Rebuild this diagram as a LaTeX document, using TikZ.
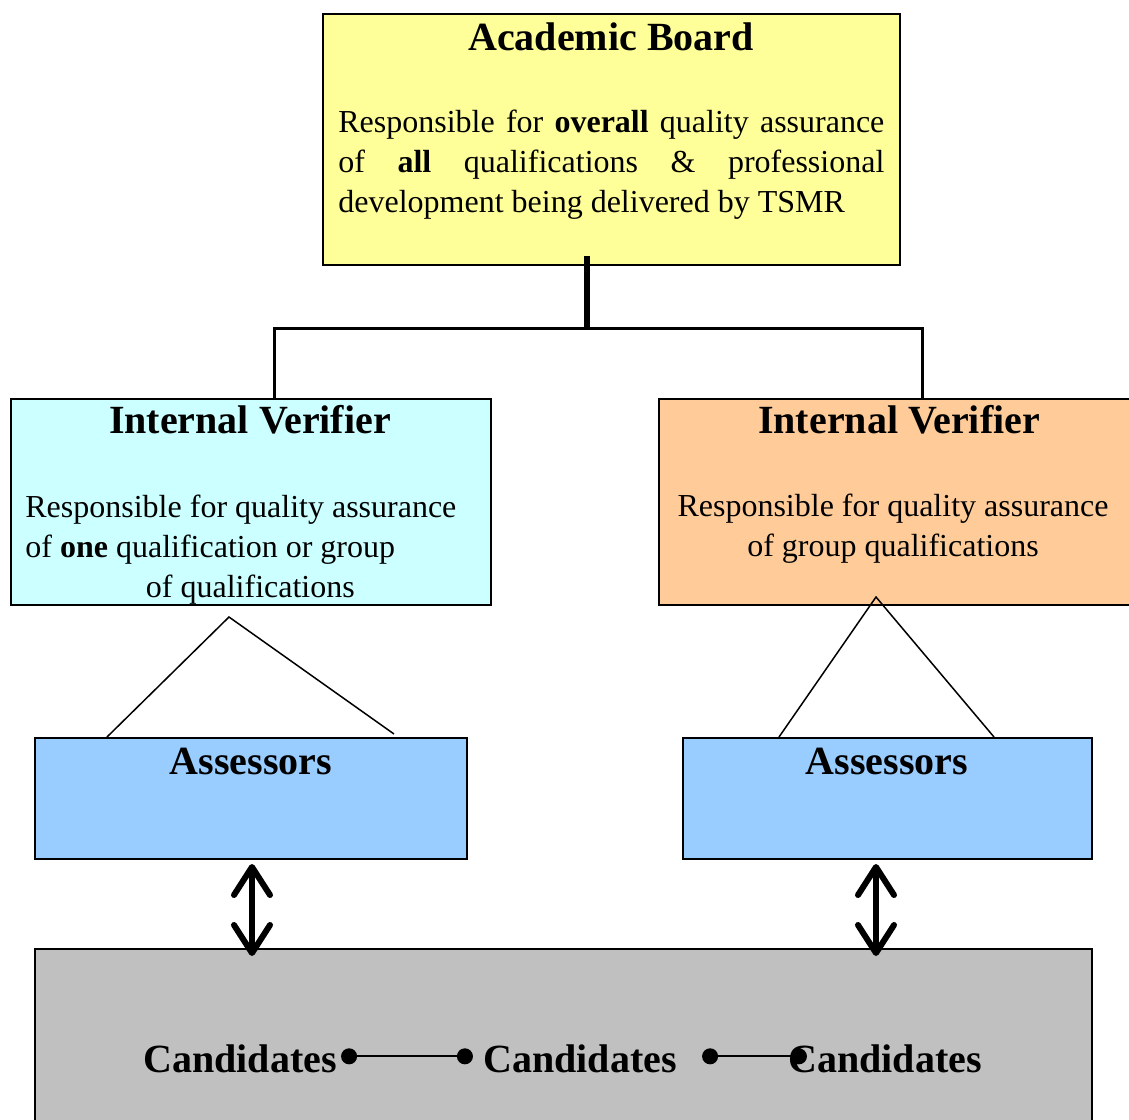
\documentclass[tikz,border=0pt]{standalone}
\usepackage{fontspec}
\setmainfont{Liberation Serif}
\usetikzlibrary{arrows.meta,positioning,calc}
\definecolor{boardyellow}{HTML}{FFFF99}
\definecolor{ivcyan}{HTML}{CCFFFF}
\definecolor{ivorange}{HTML}{FFCC99}
\definecolor{assblue}{HTML}{99CCFF}
\definecolor{candgray}{HTML}{C0C0C0}

\begin{document}
\begin{tikzpicture}[x=0.5pt,y=-0.5pt,
    box/.style={draw,line width=1pt,inner sep=0pt},
    title/.style={font=\fontsize{20}{24}\selectfont\bfseries,inner sep=0pt,anchor=base},
    body/.style={font=\fontsize{16}{20}\selectfont,inner sep=0pt},
    trunk/.style={line width=3pt},
    bus/.style={line width=1.5pt},
    link/.style={line width=0.75pt},
    updown/.style={line width=3pt,
      {Straight Barb[length=14pt,width=18pt,round]}-{Straight Barb[length=14pt,width=18pt,round]}},
    chain/.style={line width=1pt,{Circle[length=8pt]}-{Circle[length=8pt]}}]
  \clip (0,0) rectangle (1129,1119);

  % academic board
  \node[box,fill=boardyellow,minimum width=288.5pt,minimum height=125.5pt] (board) at (611.5,139.5) {};
  \node[title] (boardtitle) at (611,50) {Academic Board};
  \node[body,anchor=north west,text width=273pt,align=justify] (boardtext) at (338,110)
    {Responsible for \textbf{overall} quality assurance\linebreak
     of \textbf{all} qualifications \& professional\linebreak
     development being delivered by TSMR};

  % internal verifiers
  \node[box,fill=ivcyan,minimum width=240pt,minimum height=103pt] (ivl) at (251,502) {};
  \node[title] (ivltitle) at (250,433) {Internal Verifier};
  \node[body,anchor=north west,align=left] (ivltext) at (25,495)
    {Responsible for quality assurance\\
     of \textbf{one} qualification or group\\
     \makebox[225pt]{of qualifications}};

  \node[box,fill=ivorange,minimum width=240.5pt,minimum height=103pt] (ivr) at (899.5,502) {};
  \node[title] (ivrtitle) at (899,433) {Internal Verifier};
  \node[body,anchor=north,align=center] (ivrtext) at (893,494)
    {Responsible for quality assurance\\ of group qualifications};

  % board to verifiers
  \coordinate (split) at (587,328);
  \coordinate (lj) at (274,328);
  \coordinate (rj) at (922,328);
  \draw[trunk] ($(board.south -| split)+(0,-10)$) -- (split);
  \draw[bus] (ivl.north -| lj) -- (lj) -- (rj) -- (ivr.north -| rj);

  % assessors
  \node[box,fill=assblue,minimum width=216pt,minimum height=60.5pt] (asl) at (251,798.5) {};
  \node[title] (asltitle) at (251,774) {Assessors};
  \node[box,fill=assblue,minimum width=204.5pt,minimum height=60.5pt] (asr) at (887.5,798.5) {};
  \node[title] (asrtitle) at (887,774) {Assessors};

  \draw[link] ($(asl.north west)+(73,0)$) -- ($(ivl.south)+(-22,11)$) -- ($(asl.north west)+(360,-3)$);
  \draw[link] ($(asr.north west)+(97,0)$) -- ($(ivr.south)+(-23.5,-9)$) -- ($(asr.north west)+(312,0)$);

  % candidates
  \node[box,fill=candgray,minimum width=528.5pt,minimum height=93pt] (cand) at (563.5,1042) {};
  \node[title] (cand1) at (240,1072) {Candidates};
  \node[title] (cand2) at (580,1072) {Candidates};
  \node[title] (cand3) at (885,1072) {Candidates};

  \draw[updown] ($(asl.south)+(1,4)$) -- ($(cand.north -| asl.south)+(1,8)$);
  \draw[updown] ($(asr.south)+(-11.5,4)$) -- ($(cand.north -| asr.south)+(-11.5,8)$);

  \draw[chain] ($(cand1.east)+(4,-2)$) -- ($(cand2.west)+(-10,-2)$);
  \draw[chain] ($(cand2.east)+(25,-2)$) -- ($(cand3.west)+(19,-2)$);
\end{tikzpicture}
\end{document}
